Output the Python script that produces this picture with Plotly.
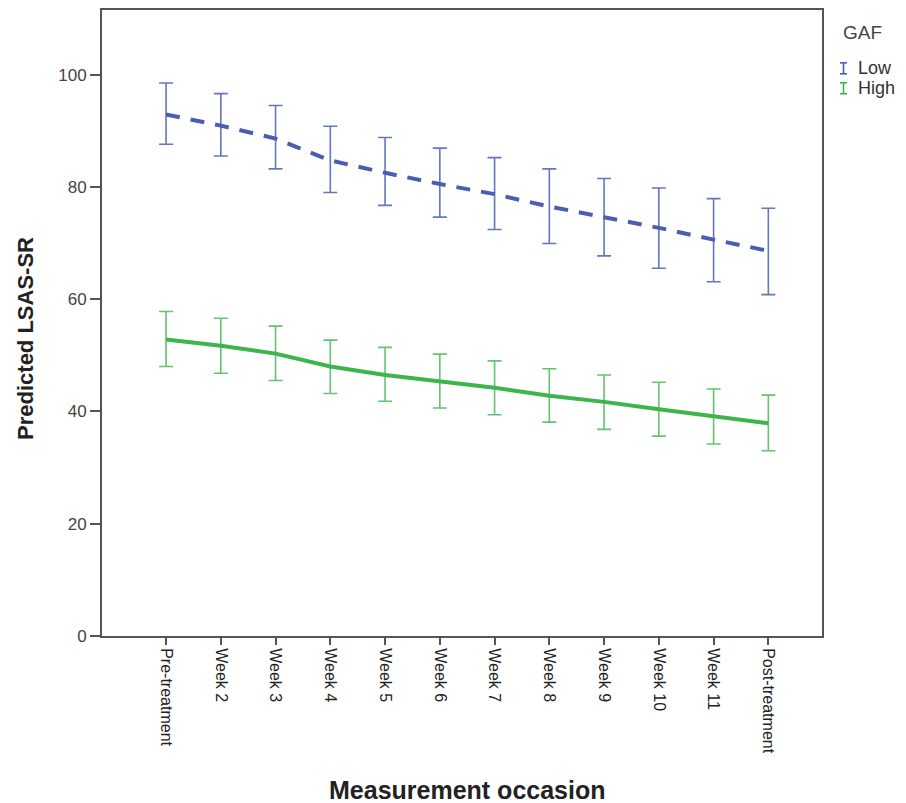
import plotly.graph_objects as go

categories = ["Pre-treatment", "Week 2", "Week 3", "Week 4", "Week 5", "Week 6",
              "Week 7", "Week 8", "Week 9", "Week 10", "Week 11", "Post-treatment"]

low_mean = [92.9, 90.9, 88.6, 84.7, 82.5, 80.5, 78.7, 76.5, 74.6, 72.7, 70.6, 68.6]
low_upper = [98.5, 96.6, 94.5, 90.8, 88.8, 86.9, 85.2, 83.2, 81.5, 79.8, 77.9, 76.2]
low_lower = [87.6, 85.5, 83.2, 79.0, 76.7, 74.6, 72.4, 69.9, 67.7, 65.5, 63.1, 60.8]

high_mean = [52.8, 51.7, 50.3, 48.0, 46.5, 45.4, 44.2, 42.8, 41.7, 40.4, 39.1, 37.9]
high_upper = [57.8, 56.6, 55.2, 52.7, 51.4, 50.2, 49.0, 47.6, 46.5, 45.2, 44.0, 42.9]
high_lower = [48.0, 46.8, 45.5, 43.2, 41.8, 40.6, 39.4, 38.1, 36.8, 35.6, 34.2, 33.0]

y_ticks = [0, 20, 40, 60, 80, 100]

LOW_C = "#4a5db3"
HIGH_C = "#3db44c"
LOW_ERR = "rgba(74,93,179,0.85)"
HIGH_ERR = "rgba(61,180,76,0.8)"

fig = go.Figure()

def add_series(name, mean, upper, lower, color, err_color, dash):
    fig.add_trace(go.Scatter(
        x=categories, y=mean, mode="lines", name=name,
        line=dict(color=color, width=4, dash=dash),
        error_y=dict(type="data", symmetric=False,
                     array=[u - m for u, m in zip(upper, mean)],
                     arrayminus=[m - l for m, l in zip(mean, lower)],
                     color=err_color, thickness=1.6, width=7),
        showlegend=False,
    ))

add_series("Low", low_mean, low_upper, low_lower, LOW_C, LOW_ERR, "14px,11px")
add_series("High", high_mean, high_upper, high_lower, HIGH_C, HIGH_ERR, "solid")

axis_color = "#555555"
fig.update_layout(
    width=906, height=803,
    margin=dict(l=102, r=84, t=8, b=167),
    plot_bgcolor="white", paper_bgcolor="white",
    font=dict(family="Arial, Liberation Sans, sans-serif", color="#333333"),
    xaxis=dict(
        type="category", range=[-1.17, 11.98],
        showline=True, linecolor=axis_color, linewidth=2, mirror=True,
        ticks="outside", ticklen=7, tickwidth=1.5, tickcolor=axis_color,
        tickangle=90, tickfont=dict(size=16, color="#222222"),
        showgrid=False, zeroline=False,
    ),
    yaxis=dict(
        range=[0, 111.5], tickvals=y_ticks,
        showline=True, linecolor=axis_color, linewidth=2, mirror=True,
        ticks="outside", ticklen=10, tickwidth=1.5, tickcolor=axis_color,
        tickfont=dict(size=17, color="#444444"),
        showgrid=False, zeroline=False,
    ),
)

# pixel -> paper helpers (plot area: x 102..822, y 8..636)
def px(xp):
    return (xp - 102) / 720.0

def py(yp):
    return (636 - yp) / 628.0

# axis titles
fig.add_annotation(xref="paper", yref="paper", x=px(467), y=py(790), xanchor="center", yanchor="middle",
                   text="<b>Measurement occasion</b>", showarrow=False,
                   font=dict(size=25, color="#222222"))
fig.add_annotation(xref="paper", yref="paper", x=px(26), y=py(338), xanchor="center", yanchor="middle",
                   text="<b>Predicted LSAS-SR</b>", textangle=-90, showarrow=False,
                   font=dict(size=22, color="#222222"))

# legend
fig.add_annotation(xref="paper", yref="paper", x=px(841), y=py(31), xanchor="left", yanchor="middle",
                   text="GAF", showarrow=False, font=dict(size=19, color="#444444"))
for label, color, yc in [("Low", LOW_C, 66.5), ("High", HIGH_C, 86.5)]:
    fig.add_annotation(xref="paper", yref="paper", x=px(856), y=py(yc), xanchor="left", yanchor="middle",
                       text=label, showarrow=False, font=dict(size=18, color="#333333"))
    top, bot = yc - 5.5, yc + 5.5
    xc = 843.5
    fig.add_shape(type="line", xref="paper", yref="paper", x0=px(xc), x1=px(xc), y0=py(top), y1=py(bot),
                  line=dict(color=color, width=1.6))
    for yy in (top, bot):
        fig.add_shape(type="line", xref="paper", yref="paper", x0=px(xc - 3.5), x1=px(xc + 3.5), y0=py(yy), y1=py(yy),
                      line=dict(color=color, width=1.6))

fig.write_html("out.html")
